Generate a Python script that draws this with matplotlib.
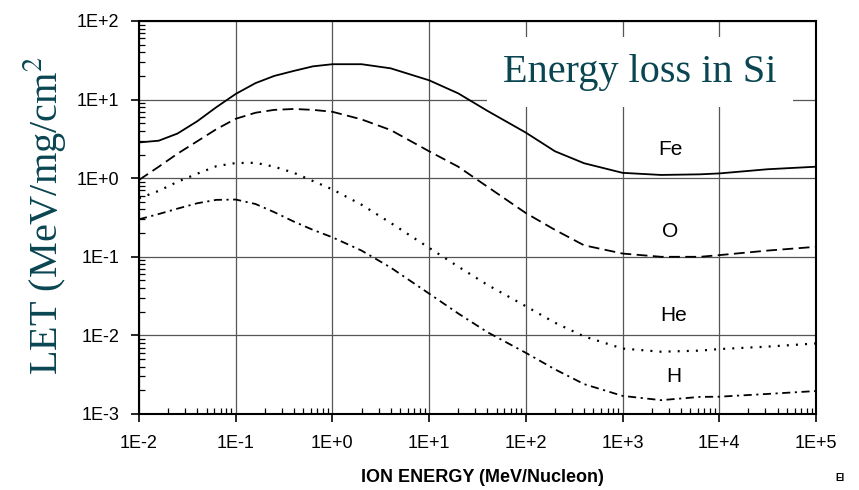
import numpy as np
import matplotlib
matplotlib.use("Agg")
import matplotlib.pyplot as plt
from matplotlib.ticker import LogLocator, FuncFormatter, NullFormatter

# ion energy grid (MeV/nucleon)
energy = [0.01, 0.016, 0.025, 0.04, 0.063, 0.1, 0.16, 0.25, 0.4, 0.63,
          1.0, 2.0, 4.0, 10.0, 20.0, 40.0, 100.0, 200.0, 400.0, 1000.0,
          2500.0, 6300.0, 10000.0, 31600.0, 100000.0]

# LET in silicon (MeV/mg/cm2)
let_fe = [2.85, 3.0, 3.7, 5.3, 8.0, 11.8, 16.2, 20.0, 23.2, 26.5,
          28.2, 28.2, 25.0, 17.6, 12.0, 7.2, 3.8, 2.2, 1.55, 1.17,
          1.10, 1.12, 1.15, 1.30, 1.40]
let_o = [0.95, 1.4, 2.05, 2.95, 4.2, 5.7, 6.8, 7.4, 7.6, 7.4,
         7.0, 5.6, 4.1, 2.2, 1.4, 0.78, 0.36, 0.22, 0.14, 0.11,
         0.10, 0.10, 0.105, 0.12, 0.134]
let_he = [0.555, 0.69, 0.90, 1.14, 1.42, 1.56, 1.57, 1.40, 1.17, 0.92,
          0.72, 0.46, 0.27, 0.13, 0.075, 0.044, 0.0235, 0.0145, 0.0097, 0.0068,
          0.0062, 0.0064, 0.0067, 0.0072, 0.0079]
let_h = [0.30, 0.35, 0.41, 0.48, 0.53, 0.535, 0.47, 0.37, 0.28, 0.22,
         0.177, 0.12, 0.073, 0.034, 0.019, 0.011, 0.006, 0.0037, 0.0024, 0.0017,
         0.0015, 0.00165, 0.00166, 0.0018, 0.00196]

ion_names = ["Fe", "O", "He", "H"]
label_pos = [(3100, 2.3), (3100, 0.207), (3350, 0.0177), (3400, 0.00296)]

teal = "#0a4552"

fig = plt.figure(figsize=(8.59, 4.90), dpi=100)
ax = fig.add_axes([139 / 859, 76 / 490, 677 / 859, 393 / 490])

ax.plot(energy, let_fe, color="black", lw=1.3)
ax.plot(energy, let_o, color="black", lw=1.3, dashes=(6, 3))
ax.plot(energy, let_he, color="black", lw=1.6, dashes=(0.9, 3.2))
ax.plot(energy, let_h, color="black", lw=1.3, dashes=(4.5, 2.5, 1.2, 2.5))

ax.set_xscale("log")
ax.set_yscale("log")
ax.set_xlim(1e-2, 1e5)
ax.set_ylim(1e-3, 1e2)

dec = FuncFormatter(lambda v, p: "1E%+d" % int(round(np.log10(v))))
for axis in (ax.xaxis, ax.yaxis):
    axis.set_major_locator(LogLocator(base=10, numticks=20))
    axis.set_minor_locator(LogLocator(base=10, subs=np.arange(2, 10), numticks=20))
    axis.set_major_formatter(dec)
    axis.set_minor_formatter(NullFormatter())

ax.grid(True, which="major", color="#555555", lw=0.9)
ax.tick_params(which="major", direction="out", length=6, width=1.2, labelsize=13)
ax.tick_params(axis="y", which="major", pad=8)
ax.tick_params(axis="x", which="major", pad=9)
ax.tick_params(which="minor", direction="in", length=4, width=0.9)
for lbl in ax.get_xticklabels() + ax.get_yticklabels():
    lbl.set_family("Liberation Sans")
for s in ax.spines.values():
    s.set_linewidth(1.5)

for name, (xp, yp) in zip(ion_names, label_pos):
    ax.text(xp, yp, name, ha="center", va="center", fontsize=15,
            family="Liberation Sans")

plt.rcParams["mathtext.fontset"] = "stix"
fig.text(0.745, 0.853, "Energy loss in Si", ha="center", va="center",
         fontsize=29, color=teal, family="Liberation Serif",
         bbox=dict(boxstyle="square,pad=0.4", fc="white", ec="none"))
fig.text(0.052, 0.56, "LET (MeV/mg/cm$^2$", ha="center", va="center",
         rotation=90, fontsize=29, color=teal, family="Liberation Serif")
fig.text(0.562, 0.0245, "ION ENERGY (MeV/Nucleon)", ha="center", va="center",
         fontsize=13, fontweight="bold", family="Liberation Sans")
fig.text(0.978, 0.025, "El", ha="center", va="center", fontsize=7,
         fontweight="bold", family="Liberation Sans")

fig.savefig("out.png", dpi=100)
